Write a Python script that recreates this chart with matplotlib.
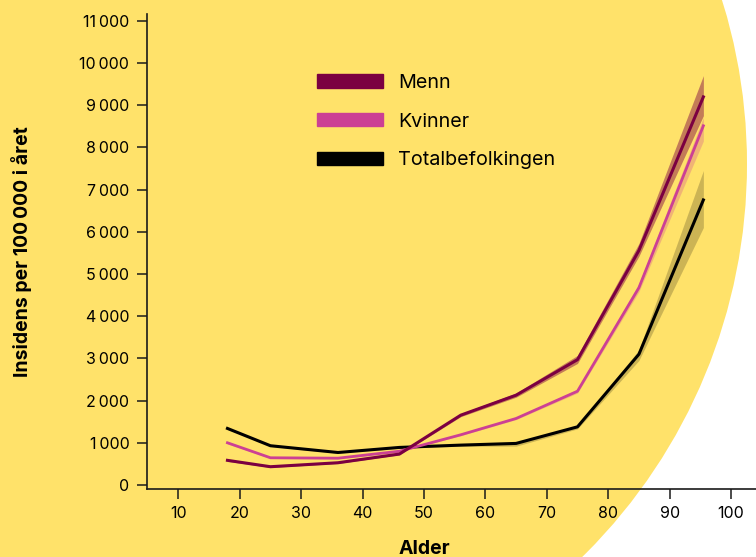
import matplotlib
matplotlib.use("Agg")
import matplotlib.pyplot as plt
from matplotlib.patches import Ellipse, Patch
from matplotlib.ticker import FuncFormatter

plt.rcParams['font.family'] = ['Inter', 'DejaVu Sans']

# alder (midtpunkt i aldersgruppe)
alder = [18, 25, 36, 46, 56, 65, 75, 85, 95.5]

menn = [584, 433, 527, 733, 1655, 2128, 2970, 5556, 9196]
menn_lo = [560, 415, 510, 715, 1620, 2080, 2880, 5420, 8750]
menn_hi = [610, 452, 545, 752, 1690, 2180, 3070, 5720, 9700]

kvinner = [1000, 645, 635, 800, 1190, 1576, 2222, 4674, 8511]
kvinner_lo = [975, 628, 620, 785, 1170, 1550, 2180, 4580, 8150]
kvinner_hi = [1025, 662, 650, 815, 1210, 1600, 2270, 4770, 8710]

total = [1340, 930, 770, 890, 945, 985, 1378, 3097, 6754]
total_lo = [1320, 915, 755, 870, 920, 920, 1330, 2950, 6100]
total_hi = [1360, 945, 785, 905, 960, 1000, 1400, 3200, 7450]

xticks = [10, 20, 30, 40, 50, 60, 70, 80, 90, 100]
yticks = list(range(0, 11001, 1000))

c_menn = '#7B0041'
c_kv = '#CC4094'
c_tot = '#000000'
gul = '#FFE26A'

fig = plt.figure(figsize=(7.56, 5.57), dpi=100, facecolor='white')
# stor gul sirkel i bakgrunnen
sirkel = Ellipse((196 / 756, 1 - 164 / 557), 2 * 551 / 756, 2 * 551 / 557,
                 transform=fig.transFigure, facecolor=gul, edgecolor='none', zorder=-5)
fig.add_artist(sirkel)

ax = fig.add_axes([146.7 / 756, 68 / 557, 1 - 146.7 / 756, (489 - 14) / 557])
ax.set_facecolor('none')

ax.fill_between(alder, total_lo, total_hi, color=c_tot, alpha=0.2, lw=0)
ax.fill_between(alder, kvinner_lo, kvinner_hi, color=c_kv, alpha=0.28, lw=0)
ax.fill_between(alder, menn_lo, menn_hi, color=c_menn, alpha=0.45, lw=0)

ax.plot(alder, total, color=c_tot, lw=2.2)
ax.plot(alder, kvinner, color=c_kv, lw=2.0)
ax.plot(alder, menn, color=c_menn, lw=2.2)

ax.set_xlim(4.85, 104.07)
ax.set_ylim(-95, 11160)
ax.set_xticks(xticks)
ax.set_yticks(yticks)
ax.yaxis.set_major_formatter(FuncFormatter(lambda v, p: f"{int(v):,}".replace(',', '\u2009')))

for s in ['top', 'right']:
    ax.spines[s].set_visible(False)
for s in ['left', 'bottom']:
    ax.spines[s].set_linewidth(1.2)
    ax.spines[s].set_color('#1a1a1a')
ax.tick_params(axis='both', length=7.5, width=1.1, color='#1a1a1a', labelsize=11.5, pad=5)

ax.set_xlabel('Alder', fontsize=14, fontweight='bold', va='top')
ax.xaxis.set_label_coords(0.455, -0.107)
ax.set_ylabel('Insidens per 100\u2009000 i året', fontsize=14, fontweight='bold')
ax.yaxis.set_label_coords(-0.188, 0.5)

handles = [Patch(color=c_menn, label='Menn'),
           Patch(color=c_kv, label='Kvinner'),
           Patch(color=c_tot, label='Totalbefolkingen')]
ax.legend(handles=handles, loc='upper left', bbox_to_anchor=((317 - 146.7) / 609.3, (489 - 74) / 475),
          frameon=False, fontsize=14.2, handlelength=3.35, handleheight=0.66,
          handletextpad=0.76, labelspacing=1.05, borderpad=0, borderaxespad=0)

fig.savefig('out.png', dpi=100, facecolor='white')
